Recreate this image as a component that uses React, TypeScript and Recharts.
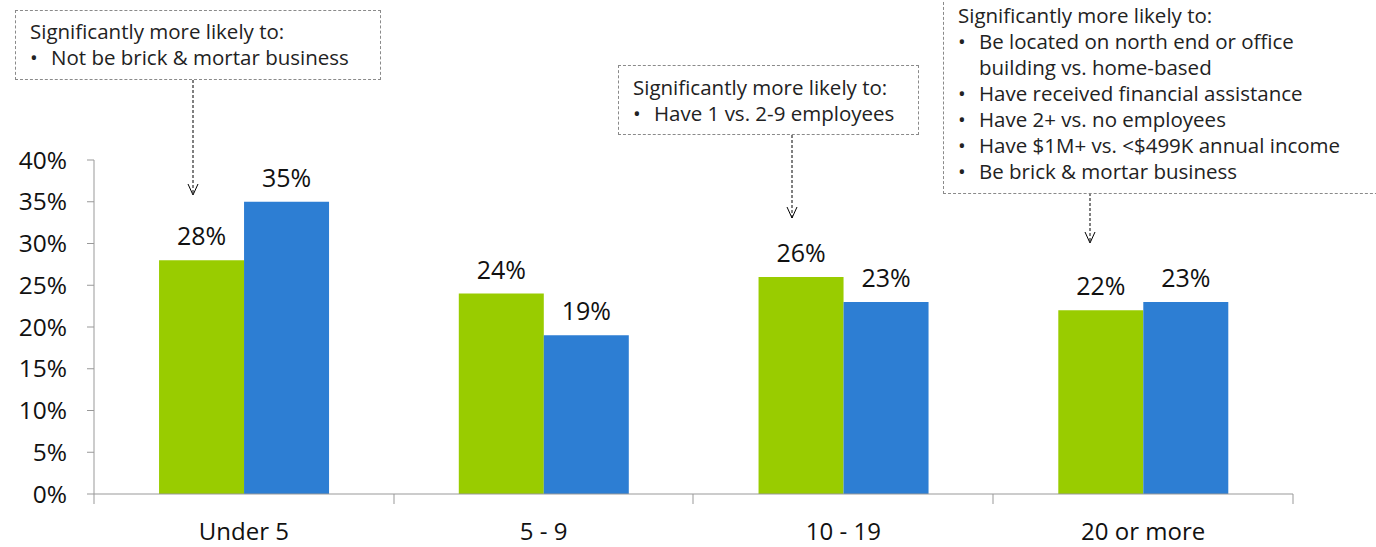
import React from "react";
import { BarChart, Bar, XAxis, YAxis, LabelList } from "recharts";

const categories = ["Under 5", "5 - 9", "10 - 19", "20 or more"];
const seriesA = [28, 24, 26, 22];
const seriesB = [35, 19, 23, 23];
const yTicks = [0, 5, 10, 15, 20, 25, 30, 35, 40];

const box1Lines = ["Not be brick & mortar business"];
const box2Lines = ["Have 1 vs. 2-9 employees"];
const box3Lines = [
  "Be located on north end or office\nbuilding vs. home-based",
  "Have received financial assistance",
  "Have 2+ vs. no employees",
  "Have $1M+ vs. <$499K annual income",
  "Be brick & mortar business",
];
const boxTitle = "Significantly more likely to:";

const data = categories.map((c, i) => ({ name: c, a: seriesA[i], b: seriesB[i] }));

const FONT = "'Open Sans', 'Noto Sans', sans-serif";
const GREEN = "#99CC00";
const BLUE = "#2D7ED3";

function Box({ left, top, width, height, lines, padTop, lh }: any) {
  return (
    <div
      style={{
        position: "absolute",
        left,
        top,
        width,
        height,
        boxSizing: "border-box",
        border: "1px dashed #8a8a8a",
        fontFamily: FONT,
        fontSize: 20.5,
        lineHeight: `${lh}px`,
        color: "#222",
        padding: `${padTop}px 0 0 14px`,
        whiteSpace: "nowrap",
        background: "#fff",
      }}
    >
      <div>{boxTitle}</div>
      {lines.map((l: string, i: number) => (
        <div key={i} style={{ display: "flex" }}>
          <span style={{ width: 21 }}>•</span>
          <span style={{ whiteSpace: "pre" }}>{l}</span>
        </div>
      ))}
    </div>
  );
}

function Arrow({ x, y1, y2 }: any) {
  return (
    <g>
      <line x1={x} y1={y1} x2={x} y2={y2} stroke="#000" strokeDasharray="3 2" strokeWidth={1} />
      <polyline points={`${x - 5},${y2 - 11} ${x},${y2} ${x + 5},${y2 - 11}`} fill="none" stroke="#000" strokeWidth={1} />
    </g>
  );
}

export default function App() {
  return (
    <div style={{ position: "absolute", left: 0, top: 0, width: 1376, height: 547, overflow: "hidden", background: "#fff" }}>
      <BarChart
        width={1376}
        height={547}
        data={data}
        margin={{ top: 160, right: 83, left: 14, bottom: 0 }}
        barCategoryGap="21.7%"
        barGap={0}
      >
        <XAxis
          dataKey="name"
          height={53}
          stroke="#999"
          tickLine={false}
          tick={{ fill: "#111", fontSize: 24, fontFamily: FONT, dy: 21 }}
          interval={0}
        />
        <YAxis
          width={80}
          domain={[0, 40]}
          ticks={yTicks}
          tickFormatter={(v: number) => `${v}%`}
          stroke="#999"
          tickSize={7}
          tick={{ fill: "#111", fontSize: 24.5, fontFamily: FONT, dx: -18 }}
          interval={0}
        />
        <Bar dataKey="a" fill={GREEN} isAnimationActive={false}>
          <LabelList dataKey="a" position="top" offset={15} formatter={(v: number) => `${v}%`} style={{ fill: "#111", fontSize: 25, fontFamily: FONT }} />
        </Bar>
        <Bar dataKey="b" fill={BLUE} isAnimationActive={false}>
          <LabelList dataKey="b" position="top" offset={15} formatter={(v: number) => `${v}%`} style={{ fill: "#111", fontSize: 25, fontFamily: FONT }} />
        </Bar>
      </BarChart>
      <svg width={1376} height={547} style={{ position: "absolute", left: 0, top: 0, pointerEvents: "none" }}>
        {[94, 394, 693, 993, 1293].map((x) => (
          <line key={x} x1={x} y1={494} x2={x} y2={504} stroke="#999" />
        ))}
        <Arrow x={193} y1={80} y2={195} />
        <Arrow x={792} y1={135} y2={218} />
        <Arrow x={1090} y1={193} y2={243} />
      </svg>
      <Box left={15} top={10} width={366} height={70} lines={box1Lines} padTop={7} lh={26} />
      <Box left={618} top={65} width={301} height={70} lines={box2Lines} padTop={8} lh={26} />
      <Box left={943} top={-3} width={450} height={197} lines={box3Lines} padTop={4} lh={26} />
    </div>
  );
}
